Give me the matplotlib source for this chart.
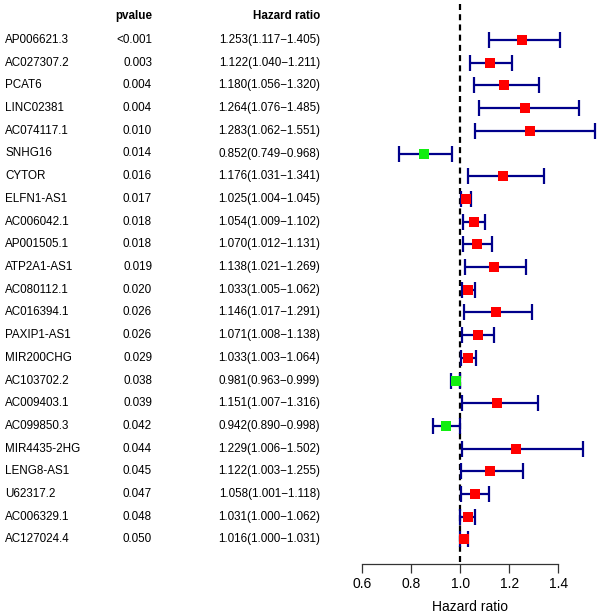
import matplotlib
matplotlib.use("Agg")
import matplotlib.pyplot as plt
import matplotlib.transforms as mtransforms

genes = ["AP006621.3", "AC027307.2", "PCAT6", "LINC02381", "AC074117.1", "SNHG16",
         "CYTOR", "ELFN1-AS1", "AC006042.1", "AP001505.1", "ATP2A1-AS1", "AC080112.1",
         "AC016394.1", "PAXIP1-AS1", "MIR200CHG", "AC103702.2", "AC009403.1",
         "AC099850.3", "MIR4435-2HG", "LENG8-AS1", "U62317.2", "AC006329.1", "AC127024.4"]
pvalues = ["<0.001", "0.003", "0.004", "0.004", "0.010", "0.014", "0.016", "0.017",
           "0.018", "0.018", "0.019", "0.020", "0.026", "0.026", "0.029", "0.038",
           "0.039", "0.042", "0.044", "0.045", "0.047", "0.048", "0.050"]
hr = [1.253, 1.122, 1.180, 1.264, 1.283, 0.852, 1.176, 1.025, 1.054, 1.070, 1.138,
      1.033, 1.146, 1.071, 1.033, 0.981, 1.151, 0.942, 1.229, 1.122, 1.058, 1.031, 1.016]
hr_low = [1.117, 1.040, 1.056, 1.076, 1.062, 0.749, 1.031, 1.004, 1.009, 1.012, 1.021,
          1.005, 1.017, 1.008, 1.003, 0.963, 1.007, 0.890, 1.006, 1.003, 1.001, 1.000, 1.000]
hr_high = [1.405, 1.211, 1.320, 1.485, 1.551, 0.968, 1.341, 1.045, 1.102, 1.131, 1.269,
           1.062, 1.291, 1.138, 1.064, 0.999, 1.316, 0.998, 1.502, 1.255, 1.118, 1.062, 1.031]
xticks = [0.6, 0.8, 1.0, 1.2, 1.4]

plt.rcParams['font.family'] = ['Liberation Sans', 'DejaVu Sans']

W, H = 600, 615
fig = plt.figure(figsize=(W / 100, H / 100), dpi=100)

# forest axes
ax_left, ax_right = 340, 600
ax_bottom_px = 564
ax = fig.add_axes([ax_left / W, 1 - ax_bottom_px / H, (ax_right - ax_left) / W, ax_bottom_px / H])
px_per_unit = 245.0
x_one = 460.3
ax.set_xlim(1 - (x_one - ax_left) / px_per_unit, 1 + (ax_right - x_one) / px_per_unit)
row0, dy = 40.0, 22.7
ax.set_ylim((ax_bottom_px - row0) / dy, -row0 / dy)

n = len(genes)
ys = list(range(n))

ax.vlines(1.0, -1.6, (ax_bottom_px - row0) / dy, colors='black',
          linestyles=(0, (2.7, 1.9)), linewidth=1.6, zorder=1)

for i in range(n):
    color = '#FF0000' if hr[i] > 1 else '#11EE11'
    ax.errorbar(hr[i], ys[i], xerr=[[hr[i] - hr_low[i]], [hr_high[i] - hr[i]]],
                fmt='none', ecolor='#00008B', elinewidth=1.6, capsize=6.0, capthick=1.6, zorder=2)
    ax.plot(hr[i], ys[i], marker='s', markersize=6.6, color=color, markeredgewidth=0, zorder=3)

for s in ['top', 'right', 'left']:
    ax.spines[s].set_visible(False)
ax.spines['bottom'].set_bounds(0.6, 1.4)
ax.spines['bottom'].set_color('#333333')
ax.spines['bottom'].set_linewidth(0.9)
ax.set_yticks([])
ax.set_xticks(xticks)
ax.set_xticklabels([f"{t:.1f}" for t in xticks])
ax.tick_params(axis='x', length=6.5, width=0.9, color='#333333', labelsize=10, pad=2.5)
ax.set_xlabel("Hazard ratio", fontsize=10, labelpad=7)
ax.patch.set_visible(False)

# text columns
trans = mtransforms.blended_transform_factory(fig.transFigure, ax.transData)
fs = 8.4
head_y = (16 - row0) / dy
fig.text(152 / W, head_y, "pvalue", transform=trans, ha='right', va='center', fontsize=fs, fontweight='bold')
fig.text(320 / W, head_y, "Hazard ratio", transform=trans, ha='right', va='center', fontsize=fs, fontweight='bold')
for i in range(n):
    fig.text(5 / W, ys[i], genes[i], transform=trans, ha='left', va='center', fontsize=fs)
    fig.text(152 / W, ys[i], pvalues[i], transform=trans, ha='right', va='center', fontsize=fs)
    fig.text(320 / W, ys[i], f"{hr[i]:.3f}({hr_low[i]:.3f}\u2212{hr_high[i]:.3f})",
             transform=trans, ha='right', va='center', fontsize=fs)

fig.savefig("out.png", dpi=100)
